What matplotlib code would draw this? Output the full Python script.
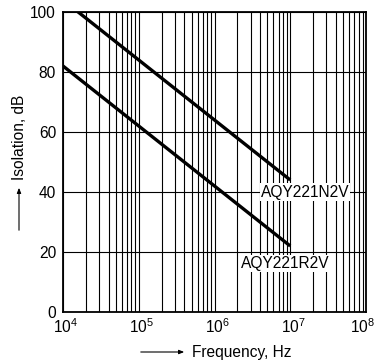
import matplotlib
matplotlib.use("Agg")
import matplotlib.pyplot as plt
import matplotlib.transforms as mtransforms
import numpy as np

plt.rcParams['font.family'] = ['Liberation Sans', 'DejaVu Sans']
plt.rcParams['mathtext.fontset'] = 'custom'
plt.rcParams['mathtext.rm'] = 'Liberation Sans'
plt.rcParams['mathtext.it'] = 'Liberation Sans'

# Data
freq = [1e4, 1e5, 1e6, 1e7]
iso_n2v = [104, 84, 64, 44]   # AQY221N2V
iso_r2v = [82, 62, 42, 22]    # AQY221R2V
yticks = [0, 20, 40, 60, 80, 100]
xticks = [1e4, 1e5, 1e6, 1e7, 1e8]
xticklabels = ['$10^4$', '$10^5$', '$10^6$', '$10^7$', '$10^8$']
labels = ['AQY221N2V', 'AQY221R2V']

FS = 11.2

fig = plt.figure(figsize=(3.79, 3.64), dpi=100)
ax = fig.add_axes([63/379, 1-312/364, (366-63)/379, (312-12)/364])

ax.plot(freq, iso_n2v, color='black', lw=2.4, solid_capstyle='butt', zorder=3)
ax.plot(freq, iso_r2v, color='black', lw=2.4, solid_capstyle='butt', zorder=3)

ax.set_xscale('log')
ax.set_xlim(1e4, 1e8)
ax.set_ylim(0, 100)
ax.set_yticks(yticks)
ax.set_xticks(xticks)
ax.set_xticklabels(xticklabels)
ax.xaxis.set_minor_locator(matplotlib.ticker.LogLocator(base=10, subs=np.arange(2, 10)))
ax.xaxis.set_minor_formatter(matplotlib.ticker.NullFormatter())
ax.grid(True, which='both', axis='x', color='black', lw=0.8)
ax.grid(True, which='major', axis='y', color='black', lw=0.8)
ax.tick_params(which='both', length=0, labelsize=FS, colors='black')
ax.tick_params(axis='x', pad=4)
ax.tick_params(axis='y', pad=5)
xlabs = ax.get_xticklabels()
for i, lab in enumerate(xlabs):
    dx = 3 if i < len(xlabs) - 1 else -3
    shift = mtransforms.ScaledTranslation(dx/100, 0, fig.dpi_scale_trans)
    lab.set_transform(lab.get_transform() + shift)
for s in ax.spines.values():
    s.set_linewidth(1.3)
    s.set_color('black')

ax.text(1.57e7, 40, labels[0], ha='center', va='center', fontsize=FS,
        bbox=dict(facecolor='white', edgecolor='none', pad=0.8), zorder=4)
ax.text(8.5e6, 16.2, labels[1], ha='center', va='center', fontsize=FS,
        bbox=dict(facecolor='white', edgecolor='none', pad=0.8), zorder=4)

# Axis labels with arrows
fig.text(192/379, 1-352/364, 'Frequency, Hz', ha='left', va='center', fontsize=FS)
fig.add_artist(matplotlib.patches.FancyArrowPatch((138/379, 1-352/364), (187/379, 1-352/364),
               transform=fig.transFigure, arrowstyle='-|>,head_length=3,head_width=1.2',
               color='black', lw=0.8, mutation_scale=1))
fig.text(20/379, 1-137/364, 'Isolation, dB', ha='center', va='center', rotation=90, fontsize=FS)
fig.add_artist(matplotlib.patches.FancyArrowPatch((19/379, 1-233/364), (19/379, 1-185/364),
               transform=fig.transFigure, arrowstyle='-|>,head_length=3,head_width=1.2',
               color='black', lw=0.8, mutation_scale=1))

fig.savefig('out.png', dpi=100)
